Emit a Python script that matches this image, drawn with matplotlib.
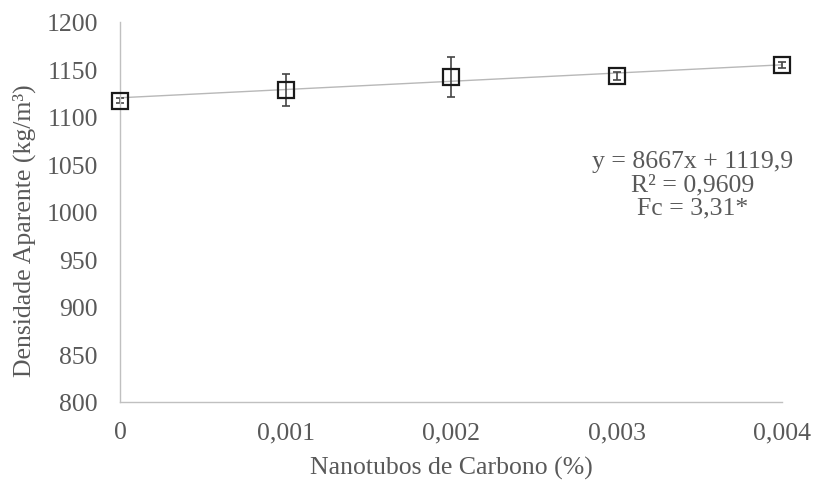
import matplotlib
matplotlib.use("Agg")
import numpy as np
from matplotlib import pyplot as plt

# teor de nanotubos (%) e densidade aparente media
nanotubos = [0.0, 0.001, 0.002, 0.003, 0.004]
densidade = [1117, 1128, 1142, 1143, 1154]
desvio = [3, 17, 21, 4, 3]

# coeficientes da reta de tendencia
coef_a = 8667
coef_b = 1119.9
rotulo_eq = "y = 8667x + 1119,9\nR² = 0,9609\nFc = 3,31*"

xticks = [0, 0.001, 0.002, 0.003, 0.004]
xtick_labels = ["0", "0,001", "0,002", "0,003", "0,004"]
yticks = list(range(800, 1201, 50))

cinza = "#595959"
fonte = 18.5
plt.rcParams["font.family"] = ["Liberation Serif", "DejaVu Serif"]

fig = plt.figure(figsize=(8.13, 4.85), dpi=100)
ax = fig.add_axes([0.1476, 0.1691, 0.8143, 0.7843])

xs = np.array([0, 0.004])
ax.plot(xs, coef_a * xs + coef_b, color="#b8b8b8", lw=1, zorder=1, clip_on=False)

ax.errorbar(nanotubos, densidade, yerr=desvio, fmt="none", ecolor="#454545",
            elinewidth=1.2, capsize=3, capthick=1.2, zorder=2, clip_on=False)
ax.plot(nanotubos, densidade, "s", ms=11, mfc="none", mec="#1a1a1a", mew=1.6,
        zorder=3, clip_on=False)

ax.set_xlim(0, 0.004)
ax.set_ylim(800, 1200)
ax.set_xticks(xticks)
ax.set_xticklabels(xtick_labels)
ax.set_yticks(yticks)
ax.tick_params(length=0, labelsize=fonte, colors=cinza)
ax.tick_params(axis="x", pad=14)
ax.tick_params(axis="y", pad=16)
ax.set_xlabel("Nanotubos de Carbono (%)", fontsize=fonte, color=cinza, labelpad=9)
ax.set_ylabel("Densidade Aparente (kg/m³)", fontsize=fonte, color=cinza)
ax.yaxis.set_label_coords(-0.127, 0.452)

for lado in ["top", "right"]:
    ax.spines[lado].set_visible(False)
for lado in ["left", "bottom"]:
    ax.spines[lado].set_color("#c0c0c0")
    ax.spines[lado].set_linewidth(1)

ax.text(0.00346, 1029, rotulo_eq, ha="center", va="center", fontsize=fonte,
        color=cinza, linespacing=1.08)

fig.savefig("out.png", dpi=100)
